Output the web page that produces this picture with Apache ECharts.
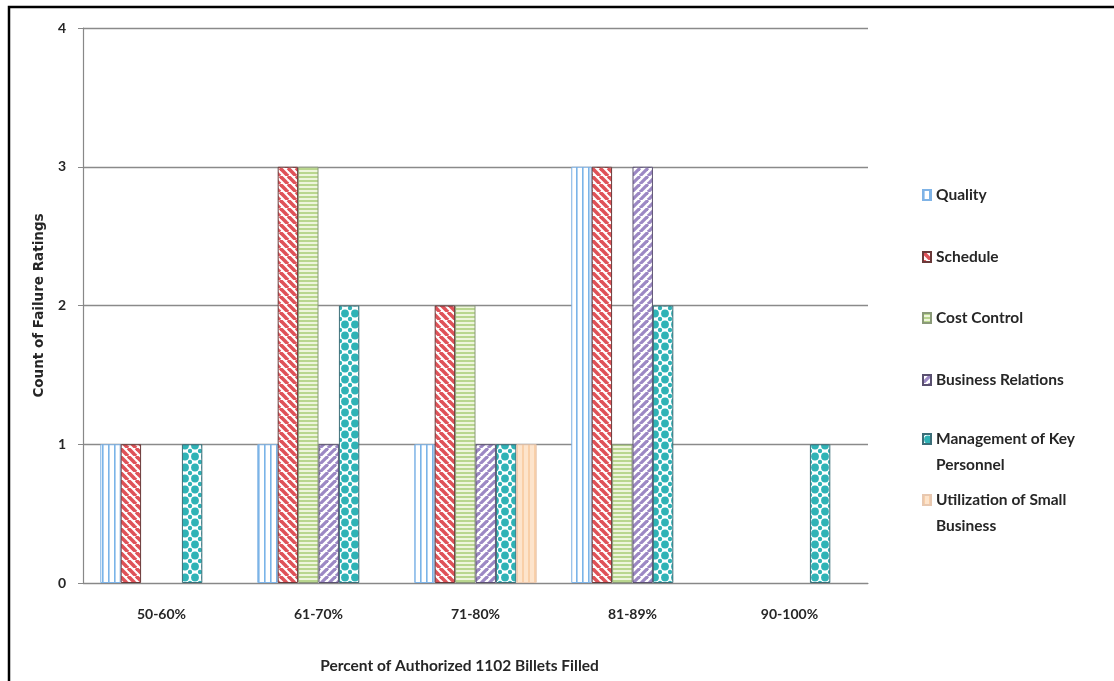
<!DOCTYPE html>
<html>
<head>
<meta charset="utf-8">
<script src="https://cdn.jsdelivr.net/npm/echarts@6/dist/echarts.min.js"></script>
<style>
html,body{margin:0;padding:0;background:#fff;}
#chart{width:1114px;height:681px;}
</style>
</head>
<body>
<div id="chart"></div>
<script>
const categories = ['50-60%', '61-70%', '71-80%', '81-89%', '90-100%'];
const seriesNames = ['Quality', 'Schedule', 'Cost Control', 'Business Relations', 'Management of Key Personnel', 'Utilization of Small Business'];
const quality = [1, 1, 1, 3, 0];
const schedule = [1, 3, 2, 3, 0];
const costControl = [0, 3, 2, 1, 0];
const businessRelations = [0, 1, 1, 3, 0];
const keyPersonnel = [1, 2, 1, 2, 1];
const smallBusiness = [0, 0, 1, 0, 0];
const yTicks = [0, 1, 2, 3, 4];
const xTitle = 'Percent of Authorized 1102 Billets Filled';
const yTitle = 'Count of Failure Ratings';

function tile(w, h, bg, draw) {
  const c = document.createElement('canvas');
  c.width = w; c.height = h;
  const g = c.getContext('2d');
  g.fillStyle = bg; g.fillRect(0, 0, w, h);
  draw(g, w, h);
  return { image: c, repeat: 'repeat' };
}
const patQuality = tile(6, 6, '#ffffff', function (g) {
  g.fillStyle = '#7ab4e8'; g.fillRect(0, 0, 1.6, 6);
});
const patSchedule = tile(8, 8, '#ffffff', function (g) {
  g.strokeStyle = '#df5258'; g.lineWidth = 3.6;
  for (let x0 = -8; x0 <= 8; x0 += 8) { g.beginPath(); g.moveTo(x0, 0); g.lineTo(x0 + 8, 8); g.stroke(); }
});
const patCost = tile(4, 4, '#eef5dc', function (g) {
  g.fillStyle = '#b9d68e'; g.fillRect(0, 0, 4, 2);
});
const patBR = tile(8, 8, '#ffffff', function (g) {
  g.strokeStyle = '#9c88c4'; g.lineWidth = 3.2;
  for (let x0 = -8; x0 <= 8; x0 += 8) { g.beginPath(); g.moveTo(x0, 8); g.lineTo(x0 + 8, 0); g.stroke(); }
});
const patKey = tile(10, 11, '#ffffff', function (g) {
  g.fillStyle = '#2fb3b6';
  g.beginPath(); g.arc(5, 5.5, 3.9, 0, Math.PI * 2); g.fill();
  [[0, 0], [10, 0], [0, 11], [10, 11]].forEach(function (p) {
    g.beginPath(); g.arc(p[0], p[1], 2.2, 0, Math.PI * 2); g.fill();
  });
});
const patSmall = tile(6, 6, '#fde4cc', function (g) {
  g.fillStyle = '#f9cfa8'; g.fillRect(0, 0, 2, 6);
});

const seriesData = [quality, schedule, costControl, businessRelations, keyPersonnel, smallBusiness];
const patterns = [patQuality, patSchedule, patCost, patBR, patKey, patSmall];
const borders = ['#7fb3e6', '#6a3a3a', '#8a9a78', '#5a5070', '#3c6e78', '#e8c8b0'];
const legendLabels = ['Quality', 'Schedule', 'Cost Control', 'Business Relations', '\nManagement of Key\nPersonnel', '\nUtilization of Small\nBusiness'];
const legendTops = [182, 244, 305, 367, 400, 461];

const chart = echarts.init(document.getElementById('chart'));
const font = 'Lato, "Open Sans", sans-serif';

chart.setOption({
  animation: false,
  backgroundColor: '#ffffff',
  textStyle: { fontFamily: font },
  graphic: [{
    type: 'rect', z: 100, silent: true,
    shape: { x: 9, y: 7, width: 1300, height: 900 },
    style: { fill: 'none', stroke: '#000', lineWidth: 2.5 }
  }],
  legend: seriesNames.map(function (n, i) {
    return {
      data: [n], orient: 'vertical', left: 922, top: legendTops[i], padding: 0,
      itemWidth: 8, itemHeight: 10, icon: 'rect', selectedMode: false,
      formatter: function () { return legendLabels[i]; },
      textStyle: { fontFamily: font, fontSize: 15.5, fontWeight: 'bold', color: '#262626', lineHeight: 26 }
    };
  }),
  grid: { left: 83, right: 246, top: 28, bottom: 98, containLabel: false },
  xAxis: {
    type: 'category', data: categories,
    name: xTitle, nameLocation: 'middle', nameGap: 75,
    nameTextStyle: { fontFamily: font, fontSize: 15.5, fontWeight: 'bold', color: '#262626', padding: [0, 32, 0, 0] },
    axisLine: { lineStyle: { color: '#888', width: 1.2 } },
    axisTick: { length: 6, lineStyle: { color: '#888' } },
    axisLabel: { margin: 24, fontSize: 14, fontWeight: 'bold', color: '#262626', fontFamily: font }
  },
  yAxis: {
    type: 'value', min: 0, max: 4, interval: 1,
    name: yTitle, nameLocation: 'middle', nameGap: 32,
    nameTextStyle: { fontFamily: '"DejaVu Sans", sans-serif', fontSize: 13.5, fontWeight: 'bold', color: '#262626' },
    axisLine: { show: true, lineStyle: { color: '#888', width: 1.2 } },
    axisTick: { show: true, length: 5, lineStyle: { color: '#888' } },
    axisLabel: { margin: 17, fontSize: 14, fontWeight: 'bold', color: '#262626', fontFamily: font,
      formatter: function (v) { return yTicks.indexOf(v) >= 0 ? String(v) : ''; } },
    splitLine: { lineStyle: { color: '#8a8a8a', width: 1.3 } }
  },
  series: seriesNames.map(function (n, i) {
    return {
      name: n, type: 'bar',
      data: seriesData[i].map(function (v) {
        return v === 0 ? { value: v, itemStyle: { borderWidth: 0, opacity: 0 } } : v;
      }),
      barGap: '0%', barCategoryGap: '22%',
      itemStyle: { color: patterns[i], borderColor: borders[i], borderWidth: 1 }
    };
  })
});
</script>
</body>
</html>
